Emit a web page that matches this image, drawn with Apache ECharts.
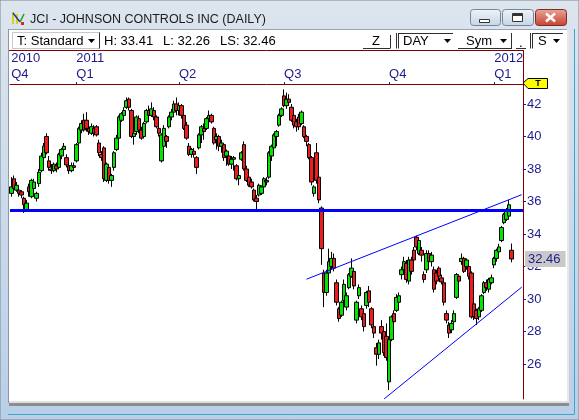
<!DOCTYPE html>
<html>
<head>
<meta charset="utf-8">
<title>JCI - JOHNSON CONTROLS INC (DAILY)</title>
<script src="https://cdn.jsdelivr.net/npm/echarts@6.0.0/dist/echarts.min.js"></script>
<style>
  html, body { margin: 0; padding: 0; background: #fff; }
  #chart { width: 579px; height: 420px; }
</style>
</head>
<body>
<div id="chart"></div>
<script>
// daily bars: [open, close, low, high]
const candles = [
  [36.5, 36.9, 36.3, 37.5], [37.4, 36.8, 36.7, 37.6], [36.7, 37.0, 36.6, 37.2], [36.7, 36.5, 36.3, 36.9],
  [36.6, 36.4, 36.2, 36.7], [36.2, 35.8, 35.3, 36.3], [35.5, 35.9, 35.4, 36.1], [36.9, 36.6, 36.3, 37.1],
  [36.3, 37.3, 36.2, 37.4], [36.8, 37.2, 36.7, 37.4], [36.2, 36.5, 36.0, 36.6], [37.1, 37.8, 36.9, 38.0],
  [37.9, 38.8, 37.8, 39.0], [38.7, 39.4, 38.6, 39.6], [40.0, 39.0, 38.9, 40.2], [38.5, 38.1, 37.9, 38.8],
  [38.0, 37.9, 37.7, 38.3], [37.9, 38.3, 37.8, 38.4], [38.2, 38.0, 37.8, 38.4], [38.1, 38.9, 38.0, 39.0],
  [38.8, 39.2, 38.6, 39.3], [39.2, 39.4, 39.0, 39.6], [38.7, 38.25, 38.1, 38.9], [38.2, 37.9, 37.7, 38.3],
  [37.9, 38.2, 37.8, 38.4], [38.2, 38.1, 37.9, 38.4], [38.5, 39.5, 38.4, 39.6], [39.6, 40.5, 39.5, 40.6],
  [40.4, 40.8, 40.2, 41.0], [41.0, 40.4, 40.3, 41.4], [41.0, 40.5, 40.3, 41.5], [40.5, 40.3, 40.1, 40.7],
  [40.2, 40.6, 40.1, 40.8], [40.5, 40.2, 40.0, 40.7], [40.6, 40.1, 40.0, 40.7], [39.6, 39.0, 38.8, 39.8],
  [38.9, 38.7, 38.5, 39.1], [39.3, 37.4, 37.2, 39.4], [37.3, 38.3, 37.2, 38.4], [38.1, 37.3, 37.1, 38.2],
  [37.3, 37.6, 36.9, 37.7], [38.1, 39.0, 37.9, 39.1], [39.2, 39.9, 39.1, 40.1], [39.9, 41.2, 39.8, 41.3],
  [41.0, 41.4, 40.9, 41.5], [41.3, 41.6, 41.1, 41.8], [41.8, 42.2, 41.7, 42.4], [42.3, 41.8, 41.6, 42.4],
  [41.6, 40.0, 39.9, 41.7], [40.0, 40.2, 39.5, 40.6], [40.3, 41.2, 40.1, 41.3], [41.1, 40.4, 40.2, 41.3],
  [40.4, 39.9, 39.8, 40.6], [40.0, 40.8, 39.9, 40.9], [40.9, 41.6, 40.8, 41.7], [41.6, 41.3, 41.1, 41.9],
  [41.3, 41.7, 41.2, 42.1], [41.6, 41.2, 41.0, 41.8], [41.2, 40.6, 40.5, 41.3], [40.5, 40.2, 40.0, 40.6],
  [38.5, 40.1, 38.4, 40.2], [39.4, 40.5, 39.3, 40.7], [40.0, 39.7, 39.3, 40.1], [40.6, 41.2, 40.5, 41.3],
  [41.2, 41.5, 41.0, 41.7], [41.5, 42.0, 41.4, 42.2], [42.0, 41.6, 41.3, 42.4], [41.6, 41.9, 41.3, 42.1],
  [41.9, 41.3, 41.1, 42.0], [41.3, 40.5, 40.4, 41.4], [40.7, 39.9, 39.8, 40.9], [39.4, 38.9, 38.8, 39.6],
  [38.9, 39.2, 38.7, 39.3], [39.1, 38.9, 38.7, 39.3], [38.7, 38.1, 37.7, 38.8], [39.3, 40.1, 39.2, 40.2],
  [40.1, 40.6, 39.6, 40.7], [40.5, 40.3, 39.8, 40.8], [40.5, 41.1, 40.4, 41.2], [41.1, 41.3, 40.9, 41.6],
  [41.3, 40.9, 40.8, 41.4], [40.5, 39.6, 39.5, 40.6], [39.8, 40.0, 39.2, 40.2], [40.0, 39.4, 39.1, 40.1],
  [39.4, 39.6, 39.0, 39.8], [39.5, 38.7, 38.5, 39.6], [38.8, 39.1, 38.2, 39.2], [38.8, 38.3, 38.2, 38.9],
  [38.3, 38.6, 38.0, 38.8], [38.6, 38.7, 37.9, 38.8], [38.2, 37.4, 37.3, 38.3], [37.4, 37.6, 37.0, 37.8],
  [38.6, 39.0, 38.5, 39.1], [39.5, 38.0, 37.9, 39.7], [38.0, 37.3, 37.2, 38.2], [37.5, 37.0, 36.9, 37.6],
  [37.2, 36.9, 36.8, 37.4], [36.7, 36.1, 36.0, 36.8], [36.2, 36.0, 35.4, 36.4], [36.4, 37.0, 36.3, 37.1],
  [36.5, 36.9, 36.4, 37.0], [36.9, 37.4, 36.8, 37.5], [37.3, 37.2, 37.0, 37.5], [37.5, 39.0, 37.4, 39.1],
  [38.8, 39.4, 38.5, 39.5], [39.3, 40.1, 39.2, 40.2], [40.0, 40.3, 39.4, 40.4], [40.7, 41.3, 40.6, 41.4],
  [41.3, 41.7, 41.2, 41.8], [42.5, 41.9, 41.8, 42.9], [41.9, 42.3, 41.7, 42.7], [42.3, 42.1, 41.9, 42.6],
  [41.8, 41.0, 40.9, 42.0], [41.3, 40.7, 40.5, 41.4], [40.9, 40.6, 40.3, 41.1], [41.2, 40.6, 40.4, 41.4],
  [40.8, 41.5, 40.7, 41.6], [40.6, 40.0, 39.9, 40.7], [40.0, 39.7, 39.4, 40.1], [39.5, 38.7, 38.6, 39.6],
  [38.7, 37.2, 37.0, 38.8], [36.5, 36.9, 36.3, 37.0], [39.0, 37.3, 37.1, 39.6], [37.5, 36.1, 35.9, 37.6],
  [35.6, 33.1, 32.1, 35.7], [31.6, 30.4, 29.5, 31.8], [30.4, 31.6, 30.2, 31.8], [31.6, 32.3, 31.4, 33.1],
  [32.0, 32.5, 31.8, 32.9], [32.5, 31.9, 31.7, 32.8], [31.0, 29.8, 29.6, 31.2], [29.4, 28.8, 28.6, 29.5],
  [29.0, 29.8, 28.9, 29.9], [29.9, 30.9, 29.7, 31.2], [29.5, 30.2, 29.3, 30.4], [30.7, 31.5, 30.6, 31.6],
  [31.4, 31.9, 31.3, 32.5], [31.7, 30.8, 30.6, 31.8], [28.7, 29.8, 28.5, 29.9], [30.2, 30.7, 30.0, 30.9],
  [29.4, 28.9, 28.7, 29.6], [29.1, 28.3, 28.0, 29.2], [29.6, 30.4, 29.4, 30.5], [30.5, 29.8, 29.5, 30.8],
  [29.4, 28.4, 28.2, 29.5], [28.3, 27.9, 27.6, 28.5], [27.0, 26.6, 25.9, 27.3], [26.6, 27.3, 26.3, 27.5],
  [28.3, 27.9, 27.5, 28.7], [28.0, 26.7, 26.5, 28.2], [27.7, 26.4, 26.2, 28.5], [24.9, 27.5, 24.4, 27.6],
  [27.5, 28.9, 27.4, 29.0], [29.1, 28.6, 28.4, 29.3], [29.3, 30.1, 29.2, 30.3], [29.8, 30.2, 29.6, 30.4],
  [31.5, 31.8, 31.2, 32.0], [31.8, 32.3, 31.6, 32.6], [32.2, 31.2, 31.0, 32.4], [31.1, 32.4, 30.9, 32.6],
  [32.4, 31.7, 31.5, 32.6], [33.0, 32.4, 32.3, 33.2], [33.8, 33.2, 33.0, 33.9], [32.8, 33.6, 32.7, 33.7],
  [33.0, 32.7, 32.3, 33.2], [31.5, 31.2, 31.0, 31.7], [31.8, 32.8, 31.6, 33.0], [32.8, 32.3, 32.1, 33.0],
  [32.3, 32.7, 32.0, 32.9], [31.8, 30.6, 30.4, 32.0], [31.6, 31.1, 30.9, 31.8], [31.9, 31.4, 31.2, 32.0],
  [31.3, 31.05, 30.9, 31.5], [31.0, 29.8, 29.6, 31.2], [29.1, 28.7, 28.5, 29.3], [28.4, 27.9, 27.6, 28.6],
  [28.1, 28.5, 27.9, 28.7], [28.6, 29.1, 28.4, 29.3], [30.1, 31.5, 30.0, 31.6], [31.4, 31.1, 30.9, 31.5],
  [32.3, 32.5, 32.1, 32.8], [32.5, 31.7, 31.6, 32.6], [32.0, 32.4, 31.8, 32.5], [32.0, 31.4, 31.2, 32.1],
  [31.6, 28.9, 28.8, 31.7], [29.7, 28.9, 28.7, 29.8], [29.3, 28.8, 28.4, 29.4], [28.9, 29.4, 28.7, 29.5],
  [29.3, 30.2, 29.2, 30.3], [30.4, 31.0, 30.3, 31.1], [31.0, 30.7, 30.5, 31.2], [30.6, 31.2, 30.4, 31.3],
  [31.0, 31.3, 30.9, 31.5], [32.1, 32.5, 31.9, 32.6], [32.5, 33.0, 32.3, 33.1], [32.9, 33.2, 32.8, 33.4],
  [33.6, 34.4, 33.5, 34.5], [34.7, 35.2, 34.6, 35.3], [34.9, 35.4, 34.8, 35.6], [35.1, 35.8, 34.9, 36.1],
  [33.0, 32.46, 32.26, 33.41]
];
const padBars = 4; // empty slots right of the last bar

// time scale labels (bar index -> text)
const quarterIdx = [0, 26, 67, 109, 151, 193];
const quarterText = ['Q4', 'Q1', 'Q2', 'Q3', 'Q4', 'Q1'];
const yearText = ['2010', '2011', '', '', '', '2012'];
const tickIdx = [26, 67, 109, 151, 193];

// price scale
const priceTicks = [26, 28, 30, 32, 34, 36, 38, 40, 42];
const priceMin = 23.846;
const priceMax = 43.231;

// drawn studies: support level and channel lines [[bar, price], [bar, price]]
const supportLevel = 35.48;
const channelUpper = [[118, 31.22], [204, 36.42]];
const channelLower = [[149, 23.85], [204, 30.73]];

const categories = [];
for (let i = 0; i < candles.length + padBars; i++) categories.push(String(i));
const last = candles[candles.length - 1];

const NAVY = '#1c1c8a';
const MAROON = '#800000';
const UI_FONT = 'Liberation Sans, Arial, sans-serif';

function grad(a, b) {
  return new echarts.graphic.LinearGradient(0, 0, 0, 1, [
    { offset: 0, color: a }, { offset: 1, color: b }
  ]);
}
function ln(x1, y1, x2, y2, color, w) {
  return { type: 'line', z: 5, silent: true, shape: { x1, y1, x2, y2 },
    style: { stroke: color, lineWidth: w || 1 } };
}
function txt(x, y, text, size, color, extra) {
  return { type: 'text', z: 8, silent: true, x, y,
    style: Object.assign({ text, fill: color || '#000', font: (size || 13) + 'px ' + UI_FONT,
      verticalAlign: 'middle' }, extra || {}) };
}
function arrow(x, y) {
  return { type: 'polygon', z: 6, silent: true,
    shape: { points: [[x, y], [x + 7, y], [x + 3.5, y + 4]] }, style: { fill: '#000' } };
}

const chrome = [
  // window frame + client area
  { type: 'rect', z: -2, silent: true, shape: { x: 0, y: 0, width: 579, height: 420 },
    style: { fill: grad('#dde5ee', '#b9cfe8'), stroke: '#7a8796' } },
  { type: 'rect', z: -1, silent: true, shape: { x: 9, y: 29, width: 558, height: 374 },
    style: { fill: '#fff' } },
  ln(8.5, 29, 8.5, 403, '#8e98a6'),
  ln(9, 29.5, 567, 29.5, '#9aa4b0'),
  { type: 'rect', z: 1, silent: true, shape: { x: 567, y: 29, width: 2, height: 376 }, style: { fill: '#e8e8e8' } },
  ln(574.5, 29, 574.5, 414.5, '#3aa7c6'),
  ln(8, 414.5, 574.5, 414.5, '#3aa7c6'),
  { type: 'rect', z: 1, silent: true, shape: { x: 9, y: 401, width: 560, height: 2 }, style: { fill: '#e0e0e0' } },
  { type: 'rect', z: 1, silent: true, shape: { x: 9, y: 403, width: 560, height: 3 }, style: { fill: '#8c8c8c' } },
  // title bar
  { type: 'rect', z: 5, silent: true, shape: { x: 12, y: 12, width: 2, height: 12 }, style: { fill: '#e0d000' } },
  { type: 'rect', z: 5, silent: true, shape: { x: 16, y: 14, width: 2, height: 10 }, style: { fill: '#e0d000' } },
  ln(13, 13, 20, 22, '#2030c0', 1.5),
  ln(20, 22, 24, 14, '#20a020', 1.5),
  { type: 'rect', z: 5, silent: true, shape: { x: 21, y: 22, width: 3, height: 3 }, style: { fill: '#e02020' } },
  txt(30, 20, 'JCI - JOHNSON CONTROLS INC (DAILY)', 12.5, '#1b1b1b'),
  // caption buttons
  { type: 'rect', z: 5, silent: true, shape: { x: 470.5, y: 9.5, width: 30, height: 16, r: 3 },
    style: { fill: grad('#f0f4f9', '#c6d4e6'), stroke: '#75859c' } },
  { type: 'rect', z: 6, silent: true, shape: { x: 479.5, y: 19.5, width: 10, height: 3 },
    style: { fill: '#fff', stroke: '#333' } },
  { type: 'rect', z: 5, silent: true, shape: { x: 502.5, y: 9.5, width: 31, height: 16, r: 3 },
    style: { fill: grad('#f0f4f9', '#c6d4e6'), stroke: '#75859c' } },
  { type: 'rect', z: 6, silent: true, shape: { x: 512.5, y: 13.5, width: 10, height: 8 },
    style: { fill: '#fff', stroke: '#333', lineWidth: 1 } },
  { type: 'rect', z: 6, silent: true, shape: { x: 513, y: 14, width: 9, height: 2 }, style: { fill: '#333' } },
  { type: 'rect', z: 5, silent: true, shape: { x: 535.5, y: 9.5, width: 31, height: 16, r: 3 },
    style: { fill: grad('#eaa698', '#c5412e'), stroke: '#7c2d22' } },
  ln(546, 13.5, 555, 21.5, '#fff', 2.5),
  ln(555, 13.5, 546, 21.5, '#fff', 2.5),
  // toolbar
  { type: 'rect', z: 5, silent: true, shape: { x: 12.5, y: 32.5, width: 87, height: 16 },
    style: { fill: '#fff', stroke: '#c8c8c8' } },
  ln(99.5, 32.5, 99.5, 48.5, '#303030'),
  txt(17, 41, 'T: Standard', 13),
  arrow(88, 39),
  txt(104, 41, 'H: ' + last[3].toFixed(2), 13),
  txt(163, 41, 'L: ' + last[2].toFixed(2), 13),
  txt(220, 41, 'LS: ' + last[1].toFixed(2), 13),
  ln(363, 48.5, 390, 48.5, '#303030'),
  ln(390.5, 35, 390.5, 48.5, '#303030'),
  txt(372, 41, 'Z', 13),
  ln(396.5, 33, 396.5, 48.5, '#303030'),
  ln(398.5, 33, 398.5, 48.5, '#303030'),
  ln(398.5, 33.5, 453, 33.5, '#303030'),
  txt(403, 41, 'DAY', 13),
  arrow(444, 39),
  ln(458, 48.5, 512, 48.5, '#303030'),
  ln(511.5, 33, 511.5, 48.5, '#303030'),
  txt(466, 41, 'Sym', 13),
  arrow(500, 39),
  ln(516, 48.5, 526, 48.5, '#303030'),
  txt(519, 43, '.', 13),
  ln(530.5, 33, 530.5, 48.5, '#303030'),
  ln(532.5, 33, 532.5, 48.5, '#303030'),
  ln(532.5, 33.5, 563, 33.5, '#303030'),
  txt(538, 41, 'S', 13),
  arrow(553, 39),
  // header rule and right price-scale border above the plot
  ln(9, 50.5, 523.5, 50.5, MAROON),
  ln(523.5, 50, 523.5, 84, MAROON),
  // "T" flag on the price scale
  { type: 'polygon', z: 7, silent: true,
    shape: { points: [[523, 83], [528, 78.5], [547.5, 78.5], [547.5, 88.5], [528, 88.5]] },
    style: { fill: '#ffff00', stroke: '#000' } },
  txt(538, 84, 'T', 9, '#000', { align: 'center', font: 'bold 9px ' + UI_FONT })
];

const myChart = echarts.init(document.getElementById('chart'));

const option = {
  animation: false,
  backgroundColor: '#fff',
  graphic: { elements: chrome },
  grid: { left: 10, right: 56, top: 84, bottom: 21 },
  xAxis: {
    type: 'category',
    position: 'top',
    data: categories,
    boundaryGap: true,
    axisLine: { show: true, lineStyle: { color: MAROON, width: 1 } },
    axisTick: {
      show: true, alignWithLabel: true, length: 2,
      interval: (i) => tickIdx.indexOf(i) >= 0,
      lineStyle: { color: NAVY }
    },
    axisLabel: {
      interval: (i) => quarterIdx.indexOf(i) >= 0,
      formatter: (v, i) => {
        const k = quarterIdx.indexOf(Number(v));
        if (k < 0) return '';
        return yearText[k] ? yearText[k] + '\n' + quarterText[k] : quarterText[k];
      },
      align: 'left',
      margin: 2,
      lineHeight: 16,
      color: NAVY,
      fontSize: 13,
      fontFamily: UI_FONT
    },
    splitLine: { show: false }
  },
  yAxis: {
    type: 'value',
    position: 'right',
    min: priceMin,
    max: priceMax,
    scale: true,
    axisLine: { show: true, lineStyle: { color: MAROON, width: 1 } },
    axisTick: { show: true, length: 3, customValues: priceTicks, lineStyle: { color: NAVY } },
    axisLabel: {
      customValues: priceTicks,
      margin: 4,
      color: NAVY,
      fontSize: 13,
      fontFamily: UI_FONT
    },
    splitLine: { show: false }
  },
  series: [
    {
      name: 'JCI',
      type: 'candlestick',
      data: candles,
      barWidth: 4,
      itemStyle: {
        color: '#00e600',
        color0: '#ee1c1c',
        borderColor: '#000',
        borderColor0: '#000',
        borderWidth: 1
      },
      markLine: {
        silent: true,
        animation: false,
        symbol: 'none',
        label: { show: false },
        data: [
          { yAxis: supportLevel, lineStyle: { color: '#0000ff', width: 3, type: 'solid' } },
          [
            { coord: channelUpper[0], lineStyle: { color: '#0000ff', width: 1, type: 'solid' } },
            { coord: channelUpper[1] }
          ],
          [
            { coord: channelLower[0], lineStyle: { color: '#0000ff', width: 1, type: 'solid' } },
            { coord: channelLower[1] }
          ],
          {
            yAxis: last[1],
            lineStyle: { color: 'rgba(0,0,0,0)', width: 0 },
            label: {
              show: true, position: 'end', distance: 2,
              formatter: last[1].toFixed(2),
              color: NAVY, fontSize: 13, fontFamily: UI_FONT,
              backgroundColor: '#c9c9c9', padding: [2, 5, 1, 3]
            }
          }
        ]
      }
    }
  ]
};

myChart.setOption(option);
window.addEventListener('resize', () => {
  myChart.resize();
});
</script>
</body>
</html>
